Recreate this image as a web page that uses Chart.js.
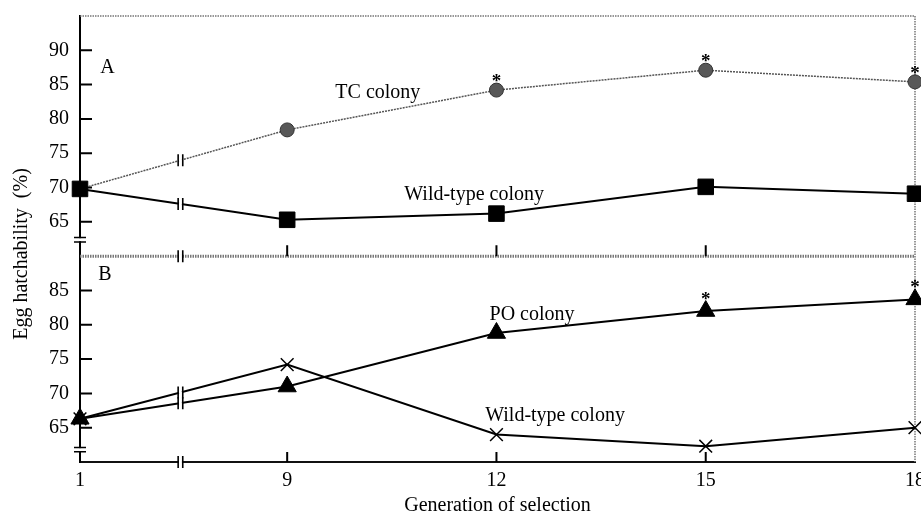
<!DOCTYPE html>
<html>
<head>
<meta charset="utf-8">
<script src="https://cdn.jsdelivr.net/npm/chart.js@4.4.0/dist/chart.umd.min.js"></script>
<style>
  html, body { margin: 0; padding: 0; background: #fff; }
  #wrap { width: 921px; height: 513px; }
</style>
</head>
<body>
<div id="wrap"><canvas id="chart" width="921" height="513"></canvas></div>
<script>
// Generation of selection (x) and tick labels
const generations = [1, 9, 12, 15, 18];
const xTickLabels = ['1', '9', '12', '15', '18'];

// Panel A: egg hatchability (%)
const tcColony  = [69.8, 78.4, 84.2, 87.1, 85.4];
const wildTypeA = [69.8, 65.3, 66.2, 70.1, 69.1];
const tcSignificant = [false, false, true, true, true];

// Panel B: egg hatchability (%)
const poColony  = [66.3, 71.0, 78.8, 82.0, 83.7];
const wildTypeB = [66.3, 74.2, 64.0, 62.3, 65.0];
const poSignificant = [false, false, false, true, true];

const yTicksA = [65, 70, 75, 80, 85, 90];
const yTicksB = [65, 70, 75, 80, 85];

// broken x axis: generation 1 is drawn closer to 9 than its real distance
const GEN1_POS = 6.03;
const BREAK_POS = 7.47;
const Y_BREAK_A = 62.4;
const Y_BREAK_B = 61.8;
function axisPos(g) { return g === 1 ? GEN1_POS : g; }

const FONT = 'Liberation Serif, Times New Roman, serif';
const font = { family: FONT, size: 20 };

function points(values) {
  return generations.map((g, i) => ({ x: axisPos(g), y: values[i] }));
}

// free text on the panels, in data coordinates
const labels = [
  { text: 'A', x: 6.32, y: 87.4, axis: 'yA', align: 'left' },
  { text: 'TC colony', x: 10.3, y: 83.8, axis: 'yA', align: 'center' },
  { text: 'Wild-type colony', x: 11.68, y: 68.9, axis: 'yA', align: 'center' },
  { text: 'B', x: 6.29, y: 87.3, axis: 'yB', align: 'left' },
  { text: 'PO colony', x: 12.51, y: 81.5, axis: 'yB', align: 'center' },
  { text: 'Wild-type colony', x: 12.84, y: 66.7, axis: 'yB', align: 'center' }
];

function breakMark(ctx, x, y0, slope, len) {
  // white gap along the line, then two short vertical bars
  ctx.save();
  ctx.strokeStyle = '#fff';
  ctx.lineWidth = 4;
  ctx.beginPath();
  ctx.moveTo(x - 1.5, y0 - slope * 1.5);
  ctx.lineTo(x + 1.5, y0 + slope * 1.5);
  ctx.stroke();
  ctx.strokeStyle = '#000';
  ctx.lineWidth = 1.6;
  ctx.beginPath();
  ctx.moveTo(x - 2.3, y0 - len / 2); ctx.lineTo(x - 2.3, y0 + len / 2);
  ctx.moveTo(x + 2.3, y0 - len / 2); ctx.lineTo(x + 2.3, y0 + len / 2);
  ctx.stroke();
  ctx.restore();
}

const decor = {
  id: 'decor',
  beforeDatasetsDraw(chart) {
    const ctx = chart.ctx;
    const { x, yA, yB } = chart.scales;
    const left = chart.chartArea.left, right = chart.chartArea.right;
    ctx.save();
    // top and right borders (light dotted)
    ctx.strokeStyle = '#777';
    ctx.lineWidth = 1.5;
    ctx.setLineDash([1.5, 1]);
    ctx.beginPath();
    ctx.moveTo(left, yA.top); ctx.lineTo(right, yA.top);
    ctx.moveTo(right, yA.top); ctx.lineTo(right, yB.bottom);
    ctx.stroke();
    // boundary between the panels
    ctx.lineWidth = 3;
    ctx.beginPath();
    ctx.moveTo(left, yA.bottom); ctx.lineTo(right, yA.bottom);
    ctx.stroke();
    ctx.setLineDash([]);

    // inward y ticks
    ctx.strokeStyle = '#000';
    ctx.lineWidth = 2;
    ctx.beginPath();
    [yA, yB].forEach(s => s.ticks.forEach(t => {
      const py = s.getPixelForValue(t.value);
      ctx.moveTo(left, py); ctx.lineTo(left + 12, py);
    }));
    // inward x ticks at the bottom of each panel
    generations.slice(1, 4).forEach(g => {
      const px = x.getPixelForValue(axisPos(g));
      ctx.moveTo(px, yA.bottom); ctx.lineTo(px, yA.bottom - 11);
      ctx.moveTo(px, yB.bottom); ctx.lineTo(px, yB.bottom - 10);
    });
    ctx.stroke();

    // x axis breaks
    const xb = x.getPixelForValue(BREAK_POS);
    breakMark(ctx, xb, yA.bottom, 0, 12);
    breakMark(ctx, xb, yB.bottom, 0, 12);

    // y axis breaks
    [[yA, Y_BREAK_A], [yB, Y_BREAK_B]].forEach(([s, v]) => {
      const py = s.getPixelForValue(v);
      ctx.fillStyle = '#fff';
      ctx.fillRect(left - 2, py - 1.5, 4, 3);
      ctx.strokeStyle = '#000';
      ctx.lineWidth = 1.5;
      ctx.beginPath();
      ctx.moveTo(left - 6, py - 2.2); ctx.lineTo(left + 6, py - 2.2);
      ctx.moveTo(left - 6, py + 2.2); ctx.lineTo(left + 6, py + 2.2);
      ctx.stroke();
    });
    ctx.restore();
  },
  afterDatasetsDraw(chart) {
    const ctx = chart.ctx;
    const { x } = chart.scales;
    const xb = x.getPixelForValue(BREAK_POS);
    ctx.save();
    // breaks on the lines between generation 1 and 9
    chart.data.datasets.forEach((ds, i) => {
      const pts = chart.getDatasetMeta(i).data;
      const p0 = pts[0], p1 = pts[1];
      const slope = (p1.y - p0.y) / (p1.x - p0.x);
      const yb = p0.y + (xb - p0.x) * slope;
      breakMark(ctx, xb, yb, slope, 12);
    });

    // significance asterisks
    ctx.fillStyle = '#000';
    ctx.font = 'bold 19px ' + FONT;
    ctx.textAlign = 'center';
    ctx.textBaseline = 'alphabetic';
    [[1, tcSignificant], [2, poSignificant]].forEach(([di, sig]) => {
      const pts = chart.getDatasetMeta(di).data;
      sig.forEach((s, i) => {
        if (s) ctx.fillText('*', pts[i].x, pts[i].y - (di === 1 ? 3 : 6));
      });
    });

    // panel text
    ctx.font = '20px ' + FONT;
    ctx.textBaseline = 'middle';
    labels.forEach(l => {
      ctx.textAlign = l.align;
      ctx.fillText(l.text, x.getPixelForValue(l.x), chart.scales[l.axis].getPixelForValue(l.y));
    });

    // y axis title, centred on both panels
    ctx.translate(22, 254);
    ctx.rotate(-Math.PI / 2);
    ctx.textAlign = 'center';
    ctx.fillText('Egg hatchability  (%)', 0, 0);
    ctx.restore();
  }
};

const yCommon = {
  type: 'linear',
  position: 'left',
  stack: 'panels',
  grid: { display: false, drawTicks: false },
  border: { display: true, color: '#000', width: 2 },
  ticks: { font: font, color: '#000', padding: 11, autoSkip: false },
  afterFit(s) { s.width = 80; s.paddingTop = 0; s.paddingBottom = 0; }
};

new Chart(document.getElementById('chart'), {
  type: 'line',
  data: {
    datasets: [
      {
        label: 'Wild-type colony (A)', yAxisID: 'yA', data: points(wildTypeA),
        borderColor: '#000', borderWidth: 2,
        pointStyle: 'rect', pointRadius: 11, pointBackgroundColor: '#000', pointBorderColor: '#000', pointBorderWidth: 1,
        clip: false
      },
      {
        label: 'TC colony', yAxisID: 'yA', data: points(tcColony),
        borderColor: '#555', borderWidth: 1.5, borderDash: [2, 1],
        pointStyle: 'circle', pointRadius: 7, pointBackgroundColor: '#585858', pointBorderColor: '#333', pointBorderWidth: 1,
        clip: false
      },
      {
        label: 'PO colony', yAxisID: 'yB', data: points(poColony),
        borderColor: '#000', borderWidth: 2,
        pointStyle: 'triangle', pointRadius: 10.5, pointBackgroundColor: '#000', pointBorderColor: '#000', pointBorderWidth: 1,
        clip: false
      },
      {
        label: 'Wild-type colony (B)', yAxisID: 'yB', data: points(wildTypeB),
        borderColor: '#000', borderWidth: 2,
        pointStyle: 'crossRot', pointRadius: 9, pointBorderColor: '#000', pointBorderWidth: 1.5,
        clip: false
      }
    ]
  },
  options: {
    responsive: false,
    animation: false,
    devicePixelRatio: 1,
    layout: { autoPadding: false, padding: { top: 16, right: 6, left: 0, bottom: 0 } },
    plugins: { legend: { display: false }, tooltip: { enabled: false } },
    elements: { line: { tension: 0 } },
    scales: {
      x: {
        type: 'linear',
        min: GEN1_POS,
        max: 18,
        afterBuildTicks(s) { s.ticks = generations.map(g => ({ value: axisPos(g) })); },
        ticks: {
          font: font, color: '#000', padding: 7, maxRotation: 0, autoSkip: false,
          callback: (v, i) => xTickLabels[i]
        },
        grid: { display: false, drawTicks: false },
        border: { display: true, color: '#111', width: 2 },
        title: { display: true, text: 'Generation of selection', font: font, color: '#000', padding: { top: 5, bottom: -5 } },
        afterFit(s) { s.height = 51; s.paddingLeft = 0; s.paddingRight = 0; }
      },
      yB: Object.assign({}, yCommon, {
        min: 60, max: 90, stackWeight: 30,
        afterBuildTicks(s) { s.ticks = yTicksB.map(v => ({ value: v })); }
      }),
      yA: Object.assign({}, yCommon, {
        min: 60, max: 95, stackWeight: 35,
        afterBuildTicks(s) { s.ticks = yTicksA.map(v => ({ value: v })); }
      })
    }
  },
  plugins: [decor]
});
</script>
</body>
</html>
